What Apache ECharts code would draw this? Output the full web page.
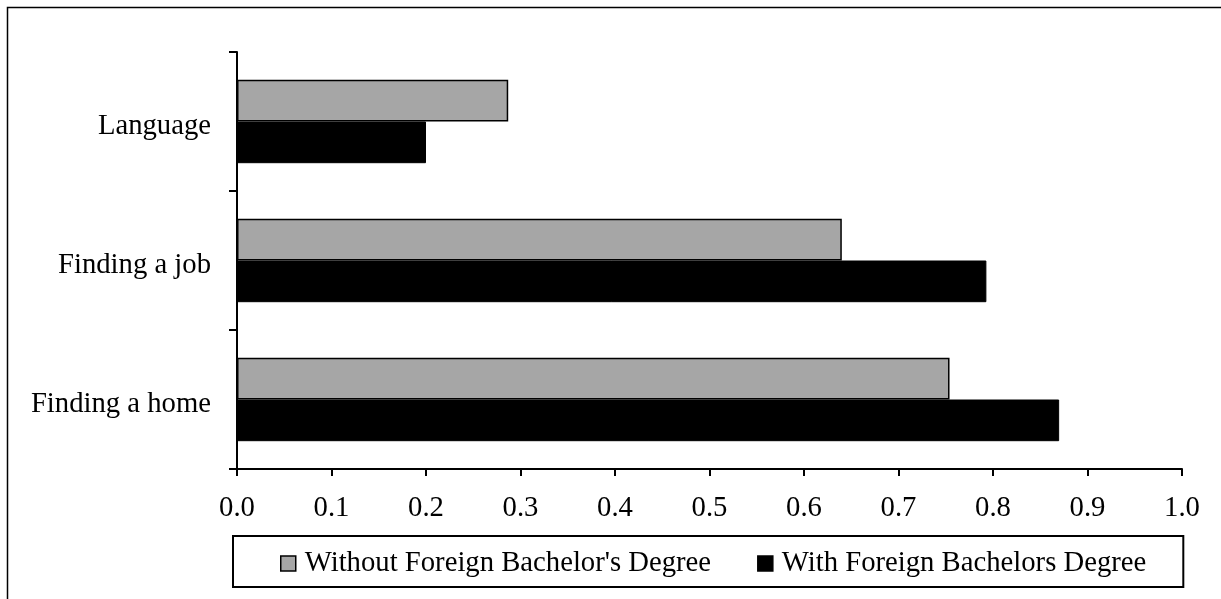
<!DOCTYPE html>
<html>
<head>
<meta charset="utf-8">
<script src="https://cdn.jsdelivr.net/npm/echarts@6/dist/echarts.min.js"></script>
<style>
  html, body { margin: 0; padding: 0; background: #fff; }
  #chart { width: 1221px; height: 599px; }
</style>
</head>
<body>
<div id="chart"></div>
<script>
// Obstacles, listed top to bottom
const categories = ['Language', 'Finding a job', 'Finding a home'];
const withoutForeignDegree = [0.287, 0.640, 0.754];
const withForeignDegree = [0.200, 0.793, 0.870];
const seriesNames = ["Without Foreign Bachelor's Degree", 'With Foreign Bachelors Degree'];

const FONT = '"Liberation Serif", "Times New Roman", serif';
const FS = 28.7;

const chart = echarts.init(document.getElementById('chart'), null, { renderer: 'canvas' });

chart.setOption({
  backgroundColor: '#ffffff',
  animation: false,
  textStyle: { fontFamily: FONT, color: '#000' },
  graphic: [{
    type: 'rect',
    shape: { x: 7.5, y: 7.5, width: 1400, height: 800 },
    style: { fill: 'none', stroke: '#000', lineWidth: 1.5 },
    silent: true,
    z: -1
  }],
  grid: { left: 237, right: 39, top: 52, bottom: 130, containLabel: false },
  xAxis: {
    type: 'value',
    min: 0,
    max: 1,
    interval: 0.1,
    axisLine: { show: true, lineStyle: { color: '#000', width: 2 } },
    axisTick: { show: true, length: 7, lineStyle: { color: '#000', width: 2 } },
    splitLine: { show: false },
    axisLabel: {
      color: '#000', fontFamily: FONT, fontSize: FS, margin: 25,
      formatter: v => v.toFixed(1)
    }
  },
  yAxis: {
    type: 'category',
    data: categories,
    inverse: true,
    axisLine: { show: true, lineStyle: { color: '#000', width: 2 } },
    axisTick: { show: true, length: 8, lineStyle: { color: '#000', width: 2 } },
    axisLabel: {
      color: '#000', fontFamily: FONT, fontSize: FS, margin: 26,
      formatter: v => '{c|' + v + '}',
      rich: { c: { fontFamily: FONT, fontSize: FS, color: '#000', padding: [10, 0, 0, 0] } }
    }
  },
  legend: {
    left: 233,
    top: 536,
    orient: 'horizontal',
    padding: [13, 37, 9, 47],
    itemGap: 46,
    itemWidth: 15,
    itemHeight: 15,
    borderColor: '#000',
    borderWidth: 2,
    textStyle: { fontFamily: FONT, fontSize: FS, color: '#000', padding: [0, 0, 0, 4] },
    data: [
      { name: seriesNames[0], icon: 'rect', itemStyle: { color: '#a6a6a6', borderColor: '#000', borderWidth: 1.5 } },
      { name: seriesNames[1], icon: 'rect', itemStyle: { color: '#000', borderColor: '#000', borderWidth: 1.5 } }
    ]
  },
  series: [
    {
      name: seriesNames[0],
      type: 'bar',
      data: withoutForeignDegree,
      barGap: '0%',
      barCategoryGap: '40%',
      itemStyle: { color: '#a6a6a6', borderColor: '#000', borderWidth: 1.5 }
    },
    {
      name: seriesNames[1],
      type: 'bar',
      data: withForeignDegree,
      barGap: '0%',
      barCategoryGap: '40%',
      itemStyle: { color: '#000', borderColor: '#000', borderWidth: 1 }
    }
  ]
});
</script>
</body>
</html>
